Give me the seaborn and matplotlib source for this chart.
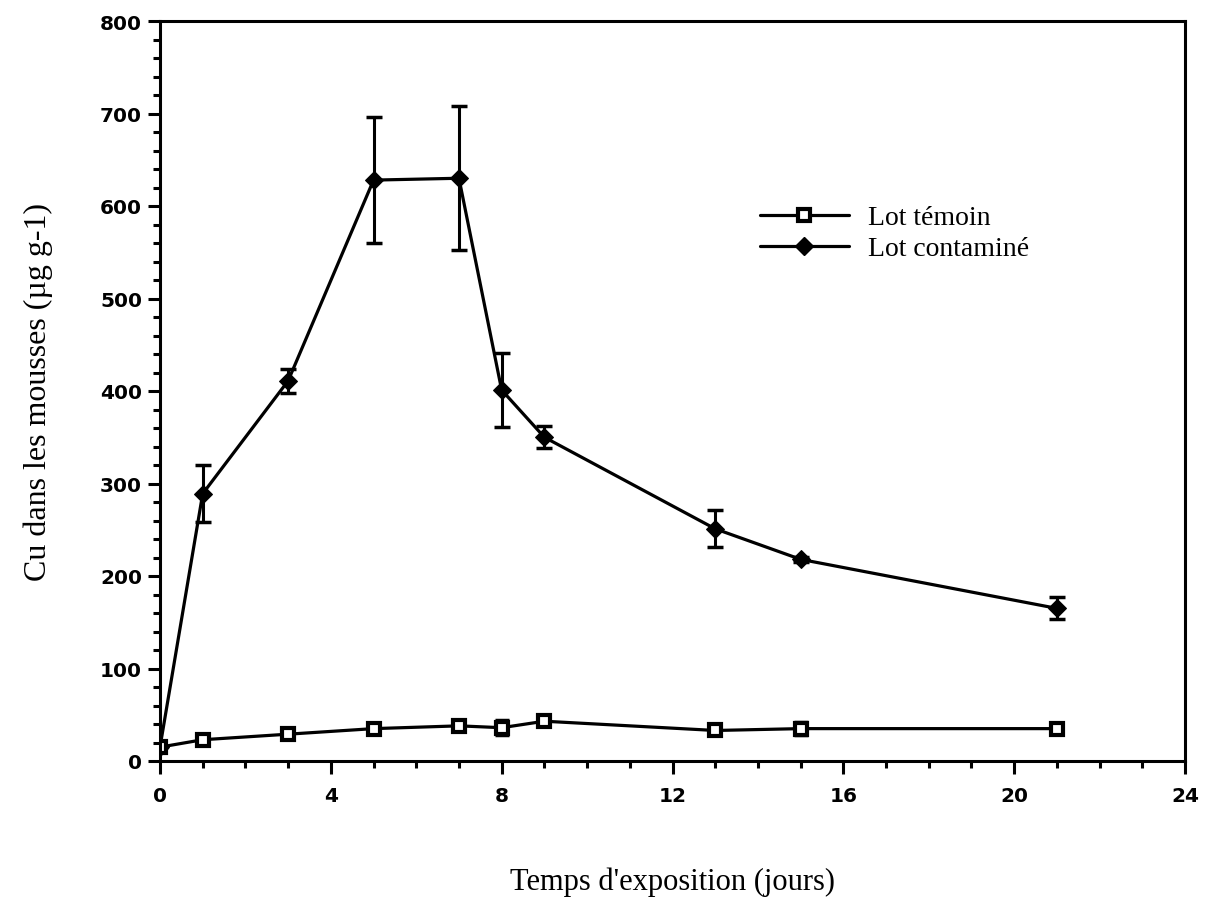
import numpy as np
import pandas as pd
import matplotlib
matplotlib.use("Agg")
import matplotlib.pyplot as plt
import seaborn as sns
from matplotlib.ticker import MultipleLocator
from matplotlib.lines import Line2D

# ---- data ----
days = [0, 1, 3, 5, 7, 8, 9, 13, 15, 21]
temoin = [15, 23, 29, 35, 38, 36, 43, 33, 35, 35]
temoin_err = [0, 0, 0, 3, 0, 8, 3, 0, 7, 0]
contamine = [15, 289, 411, 628, 630, 401, 350, 251, 218, 165]
contamine_err = [0, 31, 13, 68, 78, 40, 12, 20, 3, 12]
series_names = ["Lot témoin", "Lot contaminé"]
x_label = "Temps d'exposition (jours)"
y_label = "Cu dans les mousses (µg g-1)"

sns.set_style("ticks")
plt.rcParams["font.family"] = ["DejaVu Sans"]
plt.rcParams["text.color"] = "black"
plt.rcParams["axes.labelcolor"] = "black"
plt.rcParams["xtick.color"] = "black"
plt.rcParams["ytick.color"] = "black"

fig = plt.figure(figsize=(12.1, 9.2), dpi=100)
ax = fig.add_axes([160 / 1210, 1 - 762 / 920, (1185 - 160) / 1210, (762 - 22) / 920])

df = pd.DataFrame({
    "jour": days * 2,
    "cu": temoin + contamine,
    "lot": [series_names[0]] * len(days) + [series_names[1]] * len(days),
})

lw = 2.3
sns.lineplot(data=df[df.lot == series_names[1]], x="jour", y="cu", ax=ax,
             color="black", linewidth=lw, marker="D", markersize=9,
             markeredgecolor="black", markerfacecolor="black", legend=False)
sns.lineplot(data=df[df.lot == series_names[0]], x="jour", y="cu", ax=ax,
             color="black", linewidth=lw, marker="s", markersize=9,
             markeredgecolor="black", markerfacecolor="white",
             markeredgewidth=3, legend=False)

ax.errorbar(days, contamine, yerr=contamine_err, fmt="none", ecolor="black",
            elinewidth=2.2, capsize=6, capthick=2.5, zorder=1)
ax.errorbar(days, temoin, yerr=temoin_err, fmt="none", ecolor="black",
            elinewidth=2.2, capsize=5, capthick=2.5, zorder=1)

ax.set_xlim(0, 24)
ax.set_ylim(0, 800)
ax.xaxis.set_major_locator(MultipleLocator(4))
ax.xaxis.set_minor_locator(MultipleLocator(1))
ax.yaxis.set_major_locator(MultipleLocator(100))
ax.yaxis.set_minor_locator(MultipleLocator(20))

for s in ax.spines.values():
    s.set_linewidth(2.2)
    s.set_color("black")
    s.set_visible(True)

ax.tick_params(axis="both", which="major", direction="out", length=9, width=2.2,
               color="black", labelcolor="black", labelsize=14.5)
ax.tick_params(axis="both", which="minor", direction="out", length=5, width=2.2,
               color="black")
ax.tick_params(axis="y", which="major", pad=4)
ax.tick_params(axis="x", which="major", pad=9)
for lab in ax.get_xticklabels() + ax.get_yticklabels():
    lab.set_fontweight("bold")

serif = ["Liberation Serif", "DejaVu Serif"]
ax.set_xlabel(x_label, family=serif, fontsize=22, labelpad=44, color="black")
ax.set_ylabel(y_label, family=serif, fontsize=23, labelpad=34, color="black")

handles = [
    Line2D([], [], color="black", linewidth=lw, marker="s", markersize=9,
           markerfacecolor="white", markeredgecolor="black", markeredgewidth=3),
    Line2D([], [], color="black", linewidth=lw, marker="D", markersize=9,
           markerfacecolor="black", markeredgecolor="black"),
]
leg = ax.legend(handles, series_names, loc="upper left",
                bbox_to_anchor=(735 / 1210, 1 - 181 / 920),
                bbox_transform=fig.transFigure, frameon=False,
                prop={"family": serif, "size": 20}, handlelength=3.2,
                handletextpad=0.7, labelspacing=0.2)
for t in leg.get_texts():
    t.set_color("black")

fig.savefig("out.png", dpi=100)
